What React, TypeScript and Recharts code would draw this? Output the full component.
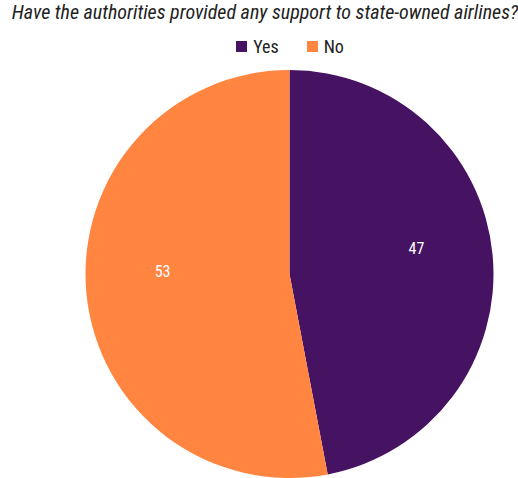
import React from "react";
import { PieChart, Pie, Cell } from "recharts";

const categories = ["Yes", "No"];
const values = [47, 53];
const colors = ["#461262", "#FF8540"];
const title = "Have the authorities provided any support to state-owned airlines?";

const data = categories.map((name, i) => ({ name, value: values[i] }));

const FONT = '"Liberation Sans Narrow", "Roboto Condensed", Arial, sans-serif';
const RAD = Math.PI / 180;

const renderLabel = (props: any) => {
  const { cx, cy, midAngle, outerRadius, value } = props;
  const r = outerRadius * 0.625;
  const x = cx + r * Math.cos(-midAngle * RAD);
  const y = cy + r * Math.sin(-midAngle * RAD) - 14;
  return (
    <text x={x} y={y} fill="#ffffff" textAnchor="middle" dominantBaseline="central" fontSize={16} fontFamily={FONT}>
      {value}
    </text>
  );
};

export default function App() {
  return (
    <div style={{ position: "absolute", left: 0, top: 0, width: 518, height: 478, background: "#fff" }}>
      <div
        style={{
          position: "absolute",
          left: 0,
          top: 0,
          width: 518,
          textAlign: "center",
          fontFamily: FONT,
          fontStyle: "italic",
          fontSize: 20,
          color: "#222",
          whiteSpace: "nowrap",
          paddingLeft: 6,
        }}
      >
        {title}
      </div>
      <div
        style={{
          position: "absolute",
          left: 0,
          top: 36,
          width: 518,
          display: "flex",
          justifyContent: "center",
          fontFamily: FONT,
          fontSize: 18,
          color: "#222",
          paddingLeft: 62,
          boxSizing: "border-box",
        }}
      >
        {data.map((d, i) => (
          <div key={d.name} style={{ display: "flex", alignItems: "center", marginRight: i === 0 ? 28 : 0 }}>
            <span style={{ display: "inline-block", width: 11, height: 11, background: colors[i], marginRight: 6 }} />
            <span>{d.name}</span>
          </div>
        ))}
      </div>
      <div style={{ position: "absolute", left: 0, top: 0 }}>
        <PieChart width={518} height={478} margin={{ top: 0, right: 0, bottom: 0, left: 0 }}>
          <Pie
            data={data}
            dataKey="value"
            nameKey="name"
            cx={289.5}
            cy={274}
            outerRadius={204}
            startAngle={90}
            endAngle={-270}
            stroke="none"
            label={renderLabel}
            labelLine={false}
            isAnimationActive={false}
          >
            {data.map((d, i) => (
              <Cell key={d.name} fill={colors[i]} />
            ))}
          </Pie>
        </PieChart>
      </div>
    </div>
  );
}
